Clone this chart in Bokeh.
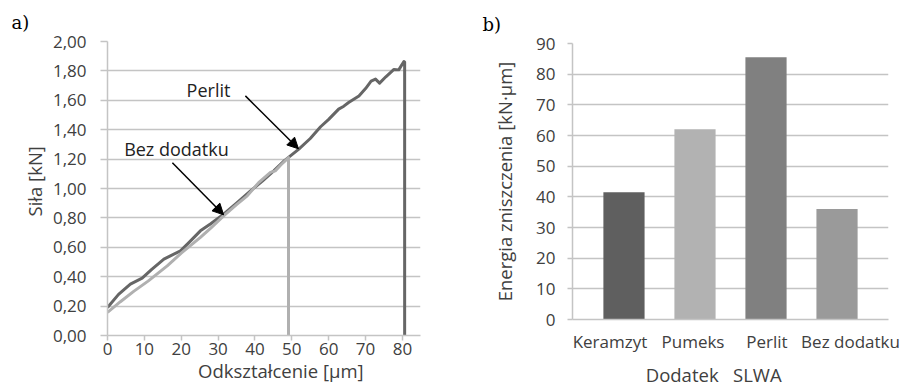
import math
from bokeh.plotting import figure
from bokeh.layouts import row, column
from bokeh.models import (Range1d, FixedTicker, Label, Arrow, NormalHead,
                          ColumnDataSource, CustomJSTickFormatter)
from bokeh.embed import file_html
from bokeh.resources import INLINE

# ---------------- data (a) ----------------
perlit_x = [0, 3, 6.2, 9.4, 12, 15.3, 19.8, 22, 25.2, 28, 31.5, 35, 38.8, 42,
            45.1, 48, 51.9, 55, 57.8, 60, 62.7, 64.1, 65.4, 68.2, 70, 71.5,
            72.7, 73.8, 75.5, 77.7, 79.0, 80.4, 80.6, 80.6]
perlit_f = [0.19, 0.28, 0.35, 0.39, 0.45, 0.52, 0.576, 0.63, 0.712, 0.76,
            0.826, 0.90, 0.984, 1.05, 1.12, 1.19, 1.268, 1.34, 1.42, 1.47,
            1.54, 1.56, 1.585, 1.63, 1.68, 1.73, 1.744, 1.717, 1.76, 1.81,
            1.807, 1.864, 1.86, 0.0]
bez_x = [0, 3.5, 7.1, 11, 16.2, 20, 25.2, 28, 31.5, 35, 37.9, 41, 44.2,
         45.5, 47, 49.1, 49.1]
bez_f = [0.157, 0.23, 0.30, 0.37, 0.474, 0.56, 0.667, 0.73, 0.814, 0.89,
         0.95, 1.04, 1.11, 1.12, 1.16, 1.21, 0.0]
y_ticks_a = [0.0, 0.2, 0.4, 0.6, 0.8, 1.0, 1.2, 1.4, 1.6, 1.8, 2.0]
x_ticks_a = [0, 10, 20, 30, 40, 50, 60, 70, 80]

# ---------------- data (b) ----------------
categories = ["Keramzyt", "Pumeks", "Perlit", "Bez dodatku"]
energy = [41.5, 62.0, 85.5, 36.0]
bar_colors = ["#5f5f5f", "#b2b2b2", "#808080", "#9a9a9a"]
y_ticks_b = [0, 10, 20, 30, 40, 50, 60, 70, 80, 90]

FONT = "Open Sans"
TXT = "#404040"
GRID = "#c4c4c4"
H = 391
NB = "\u00a0"


def style_axes(p):
    for ax in p.axis:
        ax.axis_line_color = GRID
        ax.axis_line_width = 1.5
        ax.major_tick_line_color = GRID
        ax.major_tick_line_width = 1.5
        ax.minor_tick_line_color = None
        ax.major_tick_in = 0
        ax.major_label_text_font = FONT
        ax.major_label_text_font_size = "17px"
        ax.major_label_text_color = TXT
        ax.axis_label_text_font = FONT
        ax.axis_label_text_font_size = "18.5px"
        ax.axis_label_text_font_style = "normal"
        ax.axis_label_text_color = TXT
    p.xgrid.visible = False
    p.ygrid.grid_line_color = GRID
    p.ygrid.grid_line_width = 1.5
    p.outline_line_color = None
    p.title.text_font = "DejaVu Serif"
    p.title.text_font_size = "18px"
    p.title.text_font_style = "normal"
    p.title.text_color = "#000000"
    p.title.align = "left"
    p.title.standoff = 17


def lab(p, x, y, text, size="18px", color="#222222"):
    p.add_layout(Label(x=x, y=y, text=text, text_font=FONT,
                       text_font_size=size, text_color=color,
                       text_align="center", text_baseline="middle"))


# ================= chart a =================
p1 = figure(width=450, height=H, x_range=Range1d(0, 84.9), y_range=Range1d(0, 2.0),
            output_backend="svg", toolbar_location=None, title="a)",
            min_border_left=107, min_border_right=30, min_border_top=41,
            min_border_bottom=H - 41 - 294)
p1.line(perlit_x, perlit_f, line_color="#666666", line_width=3, line_join="round")
p1.line(bez_x, bez_f, line_color="#b0b0b0", line_width=3, line_join="round")
style_axes(p1)
p1.title.offset = -96
p1.yaxis.ticker = FixedTicker(ticks=y_ticks_a)
p1.yaxis.formatter = CustomJSTickFormatter(code="return tick.toFixed(2).replace('.', ',');")
p1.yaxis.major_tick_out = 7
p1.yaxis.major_label_standoff = 14
p1.yaxis.axis_label = NB * 3 + "Siła [kN]"
p1.yaxis.axis_label_standoff = 3
p1.xaxis.ticker = FixedTicker(ticks=x_ticks_a)
p1.xaxis.major_tick_out = 5
p1.xaxis.major_label_standoff = 2
p1.xaxis.axis_label = NB * 7 + "Odkształcenie [μm]"
p1.xaxis.axis_label_standoff = 0

lab(p1, 27.4, 1.668, "Perlit")
lab(p1, 18.7, 1.27, "Bez dodatku")
p1.add_layout(Arrow(x_start=37.4, y_start=1.63, x_end=51.8, y_end=1.27,
                    line_color="black", line_width=1.5,
                    end=NormalHead(size=11, fill_color="black", line_color="black")))
p1.add_layout(Arrow(x_start=17.6, y_start=1.175, x_end=31.5, y_end=0.821,
                    line_color="black", line_width=1.5,
                    end=NormalHead(size=11, fill_color="black", line_color="black")))

# ================= chart b =================
src = ColumnDataSource(dict(x=list(range(len(categories))), top=energy,
                            color=bar_colors, cat=categories))
p2 = figure(width=457, height=H, x_range=Range1d(-0.725, 3.725), y_range=Range1d(0, 90),
            output_backend="svg", toolbar_location=None, title="b)",
            min_border_left=122, min_border_right=19, min_border_top=43,
            min_border_bottom=H - 43 - 276)
p2.vbar(x="x", top="top", width=0.58, fill_color="color", line_color=None, source=src)
style_axes(p2)
p2.title.offset = -90
p2.yaxis.ticker = FixedTicker(ticks=y_ticks_b)
p2.yaxis.major_tick_out = 5
p2.yaxis.major_label_standoff = 12
p2.yaxis.axis_label = "Energia zniszczenia [kN·μm]"
p2.yaxis.axis_label_standoff = 16

# category labels: Excel nudges the outer labels to fit; px offsets -> data units
px_per_cat = 316 / 4.45
cat_offsets_px = [-14, -2, 1, 13.5]
p2.xaxis.ticker = FixedTicker(ticks=[i + o / px_per_cat for i, o in enumerate(cat_offsets_px)])
p2.xaxis.formatter = CustomJSTickFormatter(args=dict(cats=categories),
                                           code="return cats[Math.round(tick)];")
p2.xaxis.major_tick_out = 0
p2.xaxis.major_tick_line_color = None
p2.xaxis.major_label_standoff = 10
p2.xaxis.axis_label = "Dodatek" + NB * 3 + "SLWA" + NB * 7
p2.xaxis.axis_label_standoff = 6

layout = row(column(p1), column(p2))
open("out.html", "w").write(file_html(layout, INLINE))
